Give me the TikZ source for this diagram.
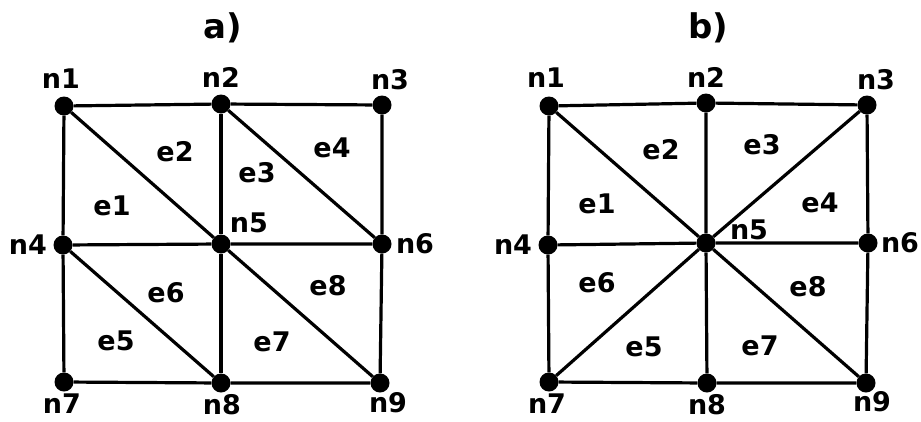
\documentclass[tikz,border=0pt]{standalone}
\usepackage{fontspec}
\setmainfont{DejaVu Sans}[BoldFont={DejaVu Sans Bold}]
\begin{document}
\begin{tikzpicture}[x=1pt,y=-1pt,
  dot/.style={circle,fill=black,inner sep=0pt,minimum size=19pt},
  edge/.style={line width=3.2pt},
  lbl/.style={font=\fontsize{27}{28}\selectfont\bfseries,inner sep=0pt},
  ttl/.style={font=\fontsize{34}{35}\selectfont\bfseries,inner sep=0pt}]
\useasboundingbox (0,0) rectangle (921,421);
% ---------- a) ----------
\node[ttl] (ta) at (223,28) {a)};
\node[dot] (a1) at (64,106) {};
\node[dot] (a2) at (221,104) {};
\node[dot] (a3) at (382,105) {};
\node[dot] (a4) at (63,245) {};
\node[dot] (a5) at (221,244) {};
\node[dot] (a6) at (382,244) {};
\node[dot] (a7) at (64,382) {};
\node[dot] (a8) at (221,383) {};
\node[dot] (a9) at (380,383) {};
\draw[edge] (a1) -- (a2) -- (a3) -- (a6) -- (a9) -- (a8) -- (a7) -- (a4) -- (a1);
\draw[edge] (a2) -- (a5) -- (a8);
\draw[edge] (a4) -- (a5) -- (a6);
\draw[edge] (a1) -- (a5) -- (a9);
\draw[edge] (a2) -- (a6);
\draw[edge] (a4) -- (a8);
\node[lbl] (la1) at (61,79) {n1};
\node[lbl] (la2) at (221,77) {n2};
\node[lbl] (la3) at (390,80) {n3};
\node[lbl] (la4) at (28,245) {n4};
\node[lbl] (la5) at (249,223) {n5};
\node[lbl] (la6) at (415,244) {n6};
\node[lbl] (la7) at (62,404) {n7};
\node[lbl] (la8) at (222,405) {n8};
\node[lbl] (la9) at (388,403) {n9};
\node[lbl] (ea1) at (112,206) {e1};
\node[lbl] (ea2) at (175,152) {e2};
\node[lbl] (ea3) at (257,173) {e3};
\node[lbl] (ea4) at (332,148) {e4};
\node[lbl] (ea5) at (116,341) {e5};
\node[lbl] (ea6) at (166,293) {e6};
\node[lbl] (ea7) at (272,342) {e7};
\node[lbl] (ea8) at (328,286) {e8};
% ---------- b) ----------
\node[ttl] (tb) at (708,28) {b)};
\node[dot] (b1) at (549,106) {};
\node[dot] (b2) at (706,103) {};
\node[dot] (b3) at (867,105) {};
\node[dot] (b4) at (548,245) {};
\node[dot] (b5) at (706,243) {};
\node[dot] (b6) at (868,243) {};
\node[dot] (b7) at (549,382) {};
\node[dot] (b8) at (707,383) {};
\node[dot] (b9) at (866,383) {};
\draw[edge] (b1) -- (b2) -- (b3) -- (b6) -- (b9) -- (b8) -- (b7) -- (b4) -- (b1);
\draw[edge] (b2) -- (b5) -- (b8);
\draw[edge] (b4) -- (b5) -- (b6);
\draw[edge] (b1) -- (b5) -- (b9);
\draw[edge] (b3) -- (b5) -- (b7);
\node[lbl] (lb1) at (546,78) {n1};
\node[lbl] (lb2) at (706,77) {n2};
\node[lbl] (lb3) at (876,80) {n3};
\node[lbl] (lb4) at (513,245) {n4};
\node[lbl] (lb5) at (749,230) {n5};
\node[lbl] (lb6) at (900,243) {n6};
\node[lbl] (lb7) at (547,404) {n7};
\node[lbl] (lb8) at (707,405) {n8};
\node[lbl] (lb9) at (872,402) {n9};
\node[lbl] (eb1) at (597,204) {e1};
\node[lbl] (eb2) at (661,150) {e2};
\node[lbl] (eb3) at (762,145) {e3};
\node[lbl] (eb4) at (820,203) {e4};
\node[lbl] (eb5) at (644,347) {e5};
\node[lbl] (eb6) at (597,283) {e6};
\node[lbl] (eb7) at (760,346) {e7};
\node[lbl] (eb8) at (808,287) {e8};
\end{tikzpicture}
\end{document}
